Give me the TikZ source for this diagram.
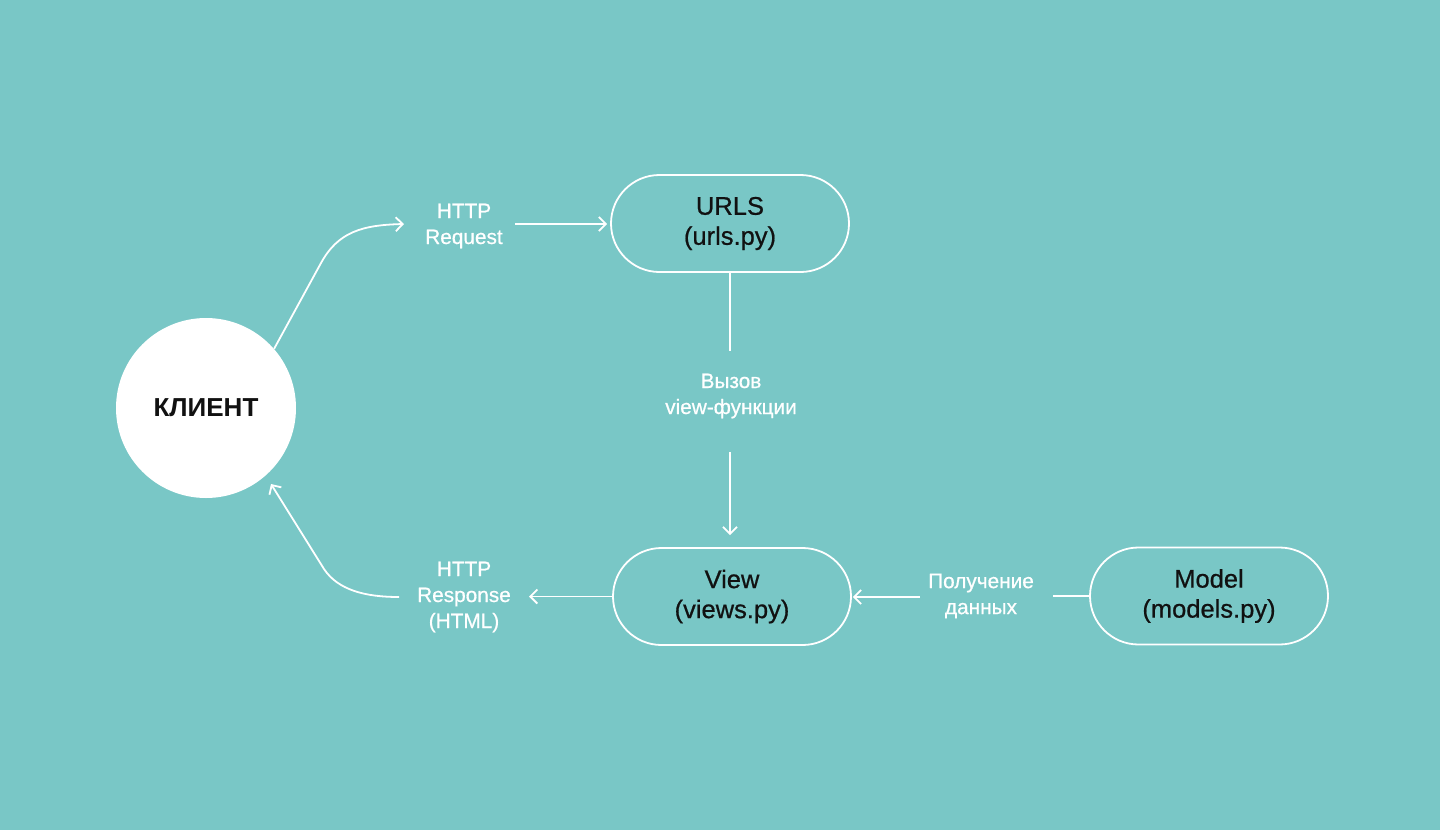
\documentclass[tikz,border=0pt]{standalone}
\usepackage{fontspec}
\setmainfont{Liberation Sans}
\newfontfamily\medfont[FakeBold=0.7]{Liberation Sans}
\usetikzlibrary{arrows.meta,shapes.misc}
\definecolor{bg}{HTML}{79C7C6}
\definecolor{ink}{HTML}{111111}
\begin{document}
\begin{tikzpicture}[x=1pt,y=-1pt,
  wire/.style={draw=white,line width=1.8pt},
  arr/.style={wire,-{Straight Barb[length=7pt,width=14pt]}},
  pill/.style={rounded rectangle,draw=white,line width=1.8pt,minimum width=238pt,minimum height=97pt,
    inner sep=0pt,align=center,text=ink,font=\medfont\fontsize{25.5}{30}\selectfont},
  lbl/.style={text=white,align=center,inner sep=0pt,font=\medfont\fontsize{20.8}{26}\selectfont}]
  % canvas
  \fill[bg] (0,0) rectangle (1440,830);
  \useasboundingbox (0,0) rectangle (1440,830);

  % nodes
  \node[circle,fill=white,minimum size=180pt,inner sep=0pt,text=ink,
        font=\fontsize{26}{30}\selectfont\bfseries] (client) at (206,408) {КЛИЕНТ};
  \node[pill] (urls)  at (730,223.5) {URLS\\(urls.py)};
  \node[pill] (view)  at (732,596.5) {View\\(views.py)};
  \node[pill] (model) at (1209,596)  {Model\\(models.py)};

  % edge labels
  \node[lbl] (req)  at (464,226) {HTTP\\Request};
  \node[lbl] (call) at (731,396) {Вызов\\view-функции};
  \node[lbl] (rsp)  at (464,597) {HTTP\\Response\\(HTML)};
  \node[lbl] (get)  at (981,596) {Получение\\данных};

  % free ends beside the labels
  \coordinate (reqIn)   at (404,224);
  \coordinate (reqOut)  at (515,224);
  \coordinate (reqBend) at (321,263);
  \coordinate (callTop) at (730,351);
  \coordinate (callBot) at (730,452);
  \coordinate (rspIn)   at (529,597);
  \coordinate (rspOut)  at (399,597);
  \coordinate (rspBend) at (324,569);
  \coordinate (rspTip)  at (271,484);
  \coordinate (getIn)   at (1053,596);
  \coordinate (getOut)  at (920,597);

  % client -> urls
  \draw[arr] (client.41) -- (reqBend) .. controls (338,232) and (362,225) .. (reqIn);
  \draw[arr,shorten >=3pt] (reqOut) -- (urls.west |- reqOut);
  % urls -> view
  \draw[wire] (urls.south) -- (callTop);
  \draw[arr,shorten >=12pt] (callBot) -- (callBot |- view.north);
  % view -> client
  \draw[arr] (view.west) -- (view.west -| rspIn);
  \draw[arr] (rspOut) .. controls (365,597) and (338,590) .. (rspBend) -- (rspTip);
  % model -> view
  \draw[wire] (model.west) -- (getIn);
  \draw[arr,shorten >=1pt] (getOut) -- (view.east |- getOut);
\end{tikzpicture}
\end{document}
